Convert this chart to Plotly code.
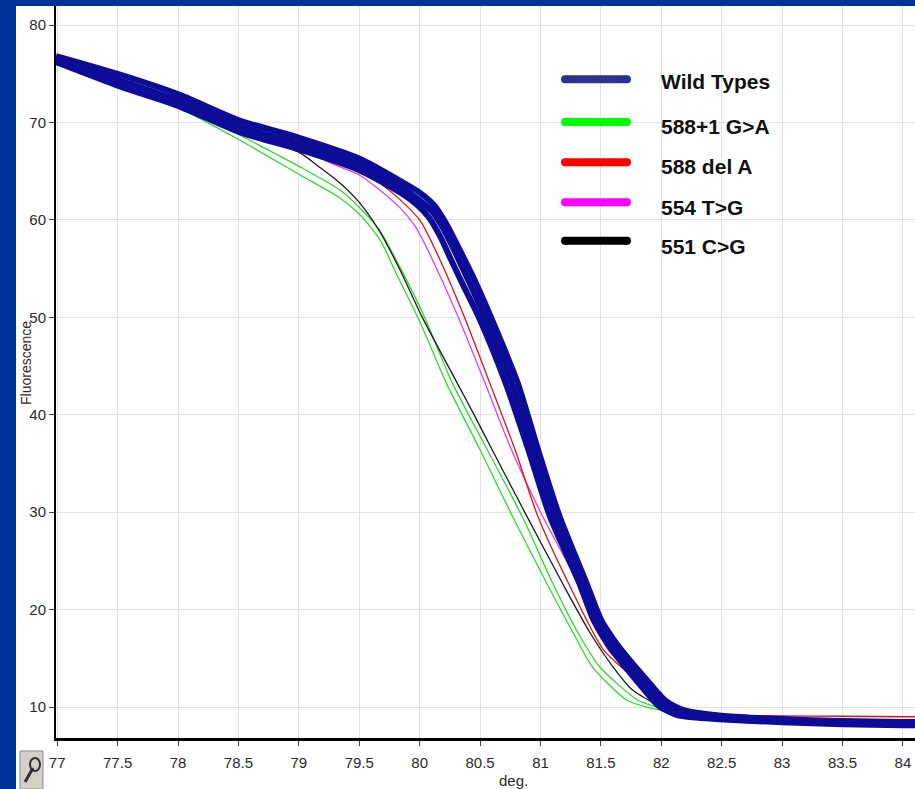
import plotly.graph_objects as go

# ---- melt-curve readings: temperature (deg) and fluorescence ----
# Wild-type replicates (upper, middle, lower members of the cluster)
WT_UPPER_T = [76.99, 77.52, 78.02, 78.51, 79.01, 79.50, 79.84, 80.00, 80.12, 80.22, 80.32, 80.44,
              80.59, 80.81, 80.98, 81.16, 81.38, 81.50, 81.63, 81.76, 81.90, 82.04, 82.19, 82.35,
              82.52, 83.00, 83.50, 84.00, 84.10]
WT_UPPER_F = [76.8, 74.9, 72.8, 70.2, 68.4, 66.3, 64.0, 62.8, 61.5, 59.6, 57.2, 54.2,
              50.0, 43.3, 36.4, 29.5, 22.75, 19.0, 16.5, 14.5, 12.5, 10.6, 9.65, 9.32,
              9.08, 8.76, 8.56, 8.46, 8.46]

WT_MID_T = [76.99, 77.52, 78.02, 78.51, 79.01, 79.50, 79.84, 80.00, 80.10, 80.20, 80.30, 80.41,
            80.54, 80.76, 80.94, 81.12, 81.35, 81.47, 81.60, 81.73, 81.87, 82.01, 82.16, 82.32,
            82.50, 83.00, 83.50, 84.00, 84.10]
WT_MID_F = [76.5, 74.3, 72.2, 69.6, 67.8, 65.7, 63.4, 62.0, 60.9, 59.0, 56.5, 53.6,
            50.0, 43.3, 36.4, 29.5, 22.75, 18.96, 16.39, 14.34, 12.29, 10.34, 9.41, 9.11,
            8.90, 8.60, 8.40, 8.30, 8.30]

WT_LOWER_T = [76.99, 77.52, 78.02, 78.51, 79.01, 79.50, 79.84, 80.00, 80.08, 80.17, 80.26, 80.36,
              80.49, 80.71, 80.90, 81.08, 81.32, 81.44, 81.57, 81.70, 81.84, 81.98, 82.13, 82.29,
              82.48, 83.00, 83.50, 84.00, 84.10]
WT_LOWER_F = [76.2, 73.7, 71.6, 69.0, 67.2, 65.1, 62.8, 61.3, 60.2, 58.3, 55.9, 53.3,
              50.0, 43.3, 36.4, 29.5, 22.75, 18.9, 16.2, 14.15, 12.05, 10.1, 9.17, 8.92,
              8.74, 8.44, 8.24, 8.14, 8.14]

# 588+1 G>A (two samples)
G588_A_T = [76.99, 77.52, 78.02, 78.51, 79.01, 79.34, 79.50, 79.67, 79.84, 80.04, 80.27, 80.56,
            80.85, 81.10, 81.31, 81.49, 81.80, 81.95, 82.07, 82.48, 83.15, 84.00, 84.10]
G588_A_F = [76.41, 74.0, 71.9, 68.71, 65.43, 63.07, 61.3, 58.9, 55.07, 50.04, 43.27, 36.40,
            29.52, 22.75, 17.62, 14.13, 10.75, 10.03, 9.62, 8.7, 8.4, 8.2, 8.2]

G588_B_T = [76.99, 77.52, 78.02, 78.51, 79.01, 79.34, 79.50, 79.67, 79.81, 80.00, 80.22, 80.50,
            80.77, 81.05, 81.27, 81.43, 81.71, 81.90, 82.07, 82.48, 83.15, 84.00, 84.10]
G588_B_F = [76.20, 73.7, 71.4, 68.20, 64.61, 62.25, 60.6, 58.0, 54.4, 49.6, 43.27, 36.40,
            29.52, 22.75, 17.62, 14.13, 10.75, 9.92, 9.52, 8.7, 8.4, 8.2, 8.2]

# 588 del A
DEL588_T = [76.99, 77.52, 78.02, 78.51, 79.01, 79.50, 79.67, 79.84, 80.00, 80.13, 80.37, 80.58,
            80.79, 80.98, 81.23, 81.52, 81.74, 81.99, 82.24, 82.48, 82.98, 83.48, 84.00, 84.10]
DEL588_F = [76.41, 74.1, 71.95, 69.54, 67.69, 65.12, 63.79, 62.05, 59.99, 56.92, 50.04, 43.27,
            36.40, 29.52, 22.75, 15.88, 13.31, 10.44, 9.5, 9.2, 9.1, 9.05, 9.0, 9.0]

# 554 T>G
T554_T = [76.99, 77.52, 78.02, 78.51, 79.01, 79.26, 79.50, 79.67, 79.84, 79.96, 80.04, 80.14,
          80.32, 80.54, 80.76, 81.02, 81.31, 81.56, 81.82, 82.07, 82.32, 83.15, 84.00, 84.10]
T554_F = [76.31, 74.1, 71.85, 69.43, 67.48, 65.84, 64.61, 63.07, 61.2, 59.4, 57.6, 55.0,
          50.0, 43.27, 36.40, 29.52, 22.75, 15.88, 12.80, 10.23, 9.41, 8.6, 8.35, 8.35]

# 551 C>G
C551_T = [76.99, 77.52, 78.02, 78.51, 78.84, 79.01, 79.17, 79.34, 79.50, 79.67, 79.84, 80.02,
          80.31, 80.46, 80.60, 80.89, 81.18, 81.41, 81.60, 81.76, 81.99, 82.24, 82.48, 83.15, 84.00, 84.10]
C551_F = [76.41, 74.1, 71.95, 69.54, 67.69, 66.87, 65.43, 63.79, 61.8, 58.8, 54.8, 50.04,
          43.27, 39.78, 36.40, 29.52, 22.75, 17.62, 14.13, 11.77, 10.13, 9.41, 8.8, 8.45, 8.25, 8.25]

LEGEND_NAMES = ["Wild Types", "588+1 G>A", "588 del A", "554 T>G", "551 C>G"]
LEGEND_COLORS = ["#2e3192", "#00ff00", "#ff0000", "#ff00ff", "#000000"]

X_TICKS = [77, 77.5, 78, 78.5, 79, 79.5, 80, 80.5, 81, 81.5, 82, 82.5, 83, 83.5, 84]
X_TICK_TEXT = ["77", "77.5", "78", "78.5", "79", "79.5", "80", "80.5", "81", "81.5",
               "82", "82.5", "83", "83.5", "84"]
Y_TICKS = [10, 20, 30, 40, 50, 60, 70, 80]

X_RANGE = [76.99, 84.10]
Y_RANGE = [6.82, 81.95]

# ---- figure ----
W, H = 915, 789
ML, MR, MT, MB = 56, 0, 6, 51
PW, PH = W - ML - MR, H - MT - MB

FRAME_BLUE = "#003399"
WT_BLUE = "#0c0c98"
TICK_FONT = dict(family="Liberation Sans Narrow, Arial Narrow, Liberation Sans, Arial, sans-serif",
                 size=15, color="#2a2a2a")


def px_x(p):
    """Pixel column -> paper x."""
    return (p - ML) / PW


def px_y(p):
    """Pixel row -> paper y."""
    return (H - MB - p) / PH


fig = go.Figure()

thin = [
    (G588_A_T, G588_A_F, "#2bdc2b"),
    (G588_B_T, G588_B_F, "#2bdc2b"),
    (C551_T, C551_F, "#1a1a1a"),
    (T554_T, T554_F, "#e040e0"),
    (DEL588_T, DEL588_F, "#e01010"),
]
for xs, ys, col in thin:
    fig.add_trace(go.Scatter(x=xs, y=ys, mode="lines",
                             line=dict(color=col, width=1.3, shape="spline", smoothing=0.7),
                             showlegend=False, hoverinfo="skip"))

for xs, ys in [(WT_LOWER_T, WT_LOWER_F), (WT_UPPER_T, WT_UPPER_F), (WT_MID_T, WT_MID_F)]:
    fig.add_trace(go.Scatter(x=xs, y=ys, mode="lines",
                             line=dict(color=WT_BLUE, width=6, shape="spline", smoothing=0.7),
                             showlegend=False, hoverinfo="skip"))

shapes = []
# blue window frame on the left and top
shapes.append(dict(type="rect", xref="paper", yref="paper", layer="above",
                   x0=px_x(0), x1=px_x(16), y0=px_y(H), y1=px_y(0),
                   fillcolor=FRAME_BLUE, line=dict(width=0)))
shapes.append(dict(type="rect", xref="paper", yref="paper", layer="above",
                   x0=px_x(0), x1=px_x(W), y0=px_y(6), y1=px_y(0),
                   fillcolor=FRAME_BLUE, line=dict(width=0)))

# settings button with a wrench glyph
shapes.append(dict(type="rect", xref="paper", yref="paper", layer="above",
                   x0=px_x(20), x1=px_x(43), y0=px_y(789), y1=px_y(751),
                   fillcolor="#d4d0c8", line=dict(color="#8a8a8a", width=1)))
shapes.append(dict(type="line", xref="paper", yref="paper", layer="above",
                   x0=px_x(25), y0=px_y(782), x1=px_x(33), y1=px_y(768),
                   line=dict(color="#303030", width=3)))
shapes.append(dict(type="circle", xref="paper", yref="paper", layer="above",
                   x0=px_x(30), x1=px_x(40), y0=px_y(771), y1=px_y(758),
                   line=dict(color="#303030", width=2)))

# legend swatches
LEG_LINE_Y = [79.3, 122.0, 162.3, 202.3, 240.7]
LEG_TEXT_Y = [81.5, 126.5, 166.5, 207.0, 246.5]
annotations = []
for name, col, ly, ty in zip(LEGEND_NAMES, LEGEND_COLORS, LEG_LINE_Y, LEG_TEXT_Y):
    shapes.append(dict(type="line", xref="paper", yref="paper", layer="above",
                       x0=px_x(565), x1=px_x(627), y0=px_y(ly), y1=px_y(ly),
                       line=dict(color=col, width=8)))
    for cx in (565, 627):
        shapes.append(dict(type="circle", xref="paper", yref="paper", layer="above",
                           x0=px_x(cx - 4), x1=px_x(cx + 4), y0=px_y(ly + 4), y1=px_y(ly - 4),
                           fillcolor=col, line=dict(width=0)))
    annotations.append(dict(xref="paper", yref="paper", x=px_x(659), y=px_y(ty),
                            xanchor="left", yanchor="middle", showarrow=False, text=name,
                            font=dict(family="Liberation Sans, Arial, sans-serif", size=21,
                                      color="#111111", weight="bold")))

annotations.append(dict(xref="paper", yref="paper", x=px_x(513), y=px_y(780),
                        xanchor="center", yanchor="middle", showarrow=False, text="deg.",
                        font=TICK_FONT))
annotations.append(dict(xref="paper", yref="paper", x=px_x(26), y=px_y(363),
                        xanchor="center", yanchor="middle", showarrow=False, text="Fluorescence",
                        textangle=-90,
                        font=dict(family=TICK_FONT["family"], size=14, color="#2a2a2a")))

fig.update_layout(
    width=W, height=H,
    margin=dict(l=ML, r=MR, t=MT, b=MB, pad=0),
    paper_bgcolor="white", plot_bgcolor="white",
    shapes=shapes, annotations=annotations,
    xaxis=dict(range=X_RANGE, tickvals=X_TICKS, ticktext=X_TICK_TEXT,
               ticks="outside", ticklen=5, tickwidth=1, tickcolor="#444",
               showgrid=True, gridcolor="#e2e2e2", gridwidth=1,
               showline=True, linecolor="black", linewidth=3, zeroline=False,
               tickfont=TICK_FONT, ticklabelstandoff=4),
    yaxis=dict(range=Y_RANGE, tickvals=Y_TICKS,
               ticks="outside", ticklen=5, tickwidth=1, tickcolor="#444",
               showgrid=True, gridcolor="#e2e2e2", gridwidth=1,
               showline=True, linecolor="black", linewidth=2, zeroline=False,
               tickfont=TICK_FONT),
)

fig.write_html("out.html")
